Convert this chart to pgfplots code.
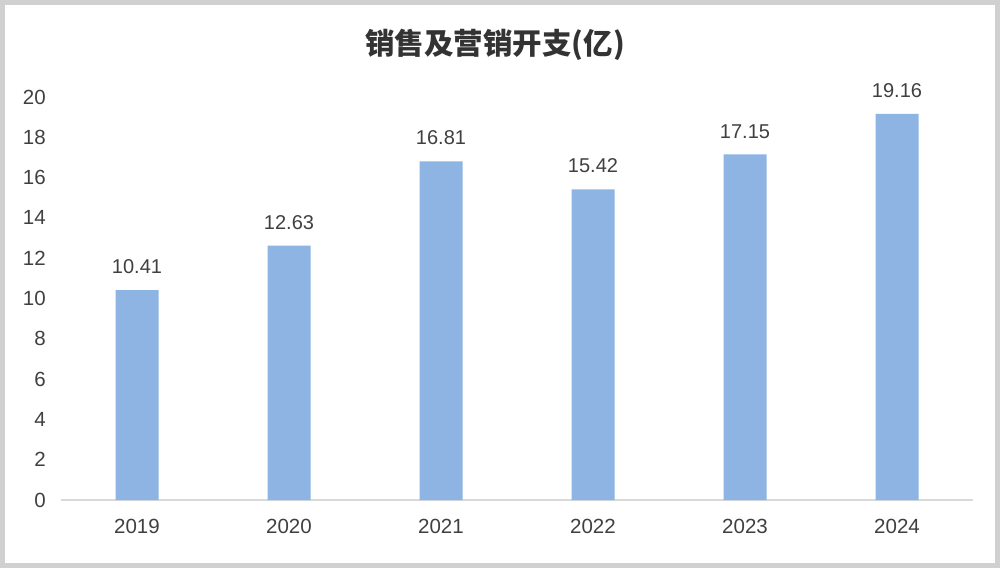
\documentclass[border=0pt]{standalone}
\usepackage{pgfplots}
\pgfplotsset{compat=1.18}
\usepackage{fontspec}
\setmainfont{Liberation Sans}
\newfontfamily\cjk{Noto Sans CJK SC}
\definecolor{barblue}{RGB}{142,180,227}
\definecolor{txt}{RGB}{64,64,64}
\definecolor{titletxt}{RGB}{51,51,51}
\definecolor{framegray}{RGB}{208,208,208}
\definecolor{axisgray}{RGB}{217,217,217}
\begin{document}
\begin{tikzpicture}[x=1pt,y=1pt]
% page and frame
\fill[white] (-61,-68) rectangle (939,500);
\draw[framegray, line width=5pt] (-58.5,-65.5) rectangle (936.5,497.5);
\begin{axis}[
    at={(0,0)}, anchor=south west,
    scale only axis, width=912pt, height=403pt,
    xmin=-0.5, xmax=5.5, ymin=0, ymax=20,
    ybar, bar width=43pt,
    xtick=data,
    xticklabels={2019,2020,2021,2022,2023,2024},
    ytick={0,2,...,20},
    axis x line=bottom, axis y line=left,
    x axis line style={axisgray, line width=1.5pt, -},
    y axis line style={draw=none},
    tick style={draw=none},
    /pgf/number format/assume math mode=true,
    ticklabel style={font=\fontsize{20.5}{24}\selectfont, text=txt},
    xticklabel style={inner sep=0pt, anchor=north, yshift=-17pt},
    yticklabel style={inner sep=0pt, anchor=east, xshift=-13pt},
    nodes near coords,
    nodes near coords style={font=\fontsize{20}{24}\selectfont, text=txt,
        anchor=south, inner sep=0pt, yshift=16pt,
        /pgf/number format/.cd, fixed, precision=2, fixed zerofill, assume math mode=true},
    clip=false,
]
\addplot[fill=barblue, draw=none] coordinates {
    (0,10.41) (1,12.63) (2,16.81) (3,15.42) (4,17.15) (5,19.16)};
\end{axis}
\node[text=titletxt, font=\cjk\bfseries\fontsize{29.5}{34}\selectfont] at (434,455) {销售及营销开支(亿)};
\end{tikzpicture}
\end{document}
